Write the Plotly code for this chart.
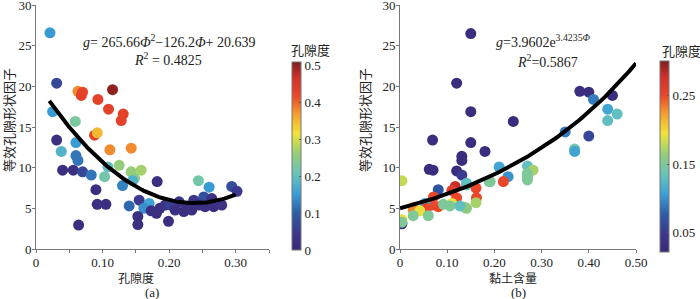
import numpy as np
import plotly.graph_objects as go

# ---- data: panel (a) ----
a_x = [0.021,0.031,0.063,0.070,0.068,0.093,0.115,0.109,0.131,0.128,0.025,0.059,0.088,0.092,0.031,0.060,
       0.038,0.060,0.063,0.111,0.143,0.040,0.056,0.070,0.083,0.103,0.108,0.125,0.143,0.158,0.148,0.145,
       0.130,0.090,0.092,0.105,0.140,0.155,0.170,0.162,0.153,0.153,0.064,0.173,0.182,0.244,0.260,0.294,
       0.302,0.186,0.194,0.202,0.209,0.222,0.234,0.237,0.252,0.254,0.264,0.267,0.279,0.199,0.245,0.181,
       0.227,0.215]
a_y = [26.6,20.4,19.4,19.3,18.9,18.4,19.6,17.2,16.6,15.8,16.9,15.7,14.0,14.3,13.4,13.1,
       12.0,11.5,10.9,12.2,12.4,9.7,9.7,9.5,9.1,8.9,10.1,10.3,9.5,9.7,8.7,8.4,
       7.8,7.3,5.5,5.5,5.3,6.0,5.6,5.0,4.0,3.0,2.95,4.7,8.3,8.4,7.6,7.7,
       7.1,5.0,5.4,5.4,4.8,4.6,4.8,6.0,6.4,5.2,6.2,5.2,5.4,3.4,5.4,4.4,
       5.2,5.8]
a_c = [0.15,0.07,0.38,0.42,0.43,0.43,0.50,0.43,0.43,0.43,0.15,0.23,0.43,0.35,0.02,0.15,
       0.18,0.12,0.12,0.38,0.38,0.02,0.02,0.07,0.12,0.22,0.20,0.26,0.26,0.27,0.25,0.18,
       0.13,0.02,0.02,0.02,0.11,0.05,0.16,0.14,0.02,0.02,0.02,0.02,0.02,0.22,0.15,0.08,
       0.05,0.02,0.03,0.06,0.02,0.02,0.02,0.04,0.08,0.02,0.03,0.02,0.03,0.02,0.02,0.02,
       0.02,0.03]
a_fit = [265.66, -126.2, 20.639]      # quadratic coefficients
a_fit_range = [0.02, 0.30]

# ---- data: panel (b) ----
b_x = [0.150,0.120,0.150,0.240,0.069,0.150,0.180,0.131,0.131,0.062,0.070,0.120,0.131,0.210,0.229,0.219,
       0.189,0.004,0.081,0.117,0.110,0.141,0.161,0.162,0.120,0.071,0.067,0.081,0.053,0.056,0.028,0.028,
       0.042,0.110,0.106,0.138,0.141,0.161,0.092,0.028,0.060,0.004,0.004,0.004,0.127,0.381,0.400,0.410,
       0.450,0.440,0.460,0.440,0.350,0.400,0.370,0.370,0.270,0.282,0.270,0.270,0.270,0.191,0.141]
b_y = [26.5,20.4,16.9,15.7,13.4,13.1,12.0,11.4,10.9,9.8,9.7,9.6,9.1,10.1,8.9,8.3,
       8.3,8.4,7.3,7.7,7.2,7.9,7.5,6.3,6.3,6.4,5.4,5.2,5.6,5.0,5.1,4.8,
       4.7,5.6,5.3,5.1,5.0,5.7,5.5,4.1,4.1,3.6,3.1,3.3,5.3,19.4,19.3,18.4,
       18.9,17.2,16.6,15.8,14.4,13.9,12.3,12.0,10.2,9.7,9.3,8.9,8.5,8.3,8.1]
b_c = [0.03,0.03,0.03,0.03,0.03,0.03,0.03,0.03,0.03,0.03,0.03,0.03,0.05,0.11,0.10,0.25,
       0.15,0.18,0.07,0.28,0.26,0.13,0.25,0.25,0.25,0.25,0.25,0.25,0.11,0.25,0.22,0.23,
       0.19,0.19,0.15,0.16,0.16,0.17,0.15,0.15,0.15,0.19,0.03,0.15,0.13,0.03,0.03,0.09,
       0.03,0.11,0.13,0.13,0.09,0.06,0.14,0.11,0.13,0.17,0.15,0.15,0.15,0.15,0.13]
b_fit = [5.0, 3.04]                   # drawn exponential curve a*exp(b*x)
b_fit_range = [0.0, 0.50]

colorscale = [
    [0.00, '#3b2878'], [0.10, '#3c3a8e'], [0.20, '#2d5ea8'], [0.30, '#3a9fd6'],
    [0.40, '#66c3bd'], [0.50, '#8fcb80'], [0.56, '#bcd85a'], [0.62, '#f3e23a'],
    [0.72, '#f5a22e'], [0.82, '#e9462a'], [0.92, '#d1302a'], [1.00, '#7a1e1e']]

SERIF = "Liberation Serif, Times New Roman, serif"
CJK = "Noto Sans CJK SC"
W, H = 700, 299

def px_x(p): return p / W
def px_y(p): return 1 - p / H

fig = go.Figure()

fig.add_trace(go.Scatter(x=a_x, y=a_y, mode='markers', xaxis='x', yaxis='y',
                         marker=dict(size=11, color=a_c, coloraxis='coloraxis'), showlegend=False))
fa = np.linspace(a_fit_range[0], a_fit_range[1], 100)
fig.add_trace(go.Scatter(x=fa, y=np.polyval(a_fit, fa), mode='lines', xaxis='x', yaxis='y',
                         line=dict(color='black', width=4), showlegend=False))

fig.add_trace(go.Scatter(x=b_x, y=b_y, mode='markers', xaxis='x2', yaxis='y2',
                         marker=dict(size=11, color=b_c, coloraxis='coloraxis2'), showlegend=False))
fb = np.linspace(b_fit_range[0], b_fit_range[1], 100)
fig.add_trace(go.Scatter(x=fb, y=b_fit[0] * np.exp(b_fit[1] * fb), mode='lines', xaxis='x2', yaxis='y2',
                         line=dict(color='black', width=4), showlegend=False))

axis_common = dict(showline=True, linecolor='#777', linewidth=1, ticks='outside', ticklen=3,
                   tickcolor='#777', showgrid=False, zeroline=False, ticklabelstandoff=-2,
                   automargin=False, ticklabeloverflow='allow',
                   tickfont=dict(family=SERIF, size=13, color='#222'))
ydom = [px_y(249), px_y(5)]

lx_t = [0, 0.05, 0.10, 0.15, 0.20, 0.25, 0.30, 0.35]
lx_l = ['0', ' ', '0.10', ' ', '0.20', ' ', '0.30', ' ']
rx_t = [0, 0.1, 0.2, 0.3, 0.4, 0.5]
rx_l = ['0', '0.10', '0.20', '0.30', '0.40', '0.50']
y_t = [0, 5, 10, 15, 20, 25, 30]

fig.update_layout(
    width=W, height=H, margin=dict(l=0, r=0, t=0, b=0, autoexpand=False),
    paper_bgcolor='white', plot_bgcolor='white',
    xaxis=dict(domain=[px_x(36), px_x(269)], range=[0, 0.35], tickvals=lx_t, ticktext=lx_l,
               anchor='y', **axis_common),
    yaxis=dict(domain=ydom, range=[0, 30.02], tickvals=y_t, anchor='x', **axis_common),
    xaxis2=dict(domain=[px_x(400), px_x(636)], range=[0, 0.5], tickvals=rx_t, ticktext=rx_l,
                anchor='y2', **axis_common),
    yaxis2=dict(domain=ydom, range=[0, 30.02], tickvals=y_t, anchor='x2', **axis_common),
    coloraxis=dict(colorscale=colorscale, cmin=0, cmax=0.51,
                   colorbar=dict(x=px_x(292), xanchor='left', y=px_y(156), yanchor='middle',
                                 len=188, lenmode='pixels', thickness=9, thicknessmode='pixels',
                                 xpad=0, ypad=0,
                                 outlinewidth=1, outlinecolor='#777',
                                 tickvals=[0, 0.1, 0.2, 0.3, 0.4, 0.5],
                                 ticktext=['0', '0.1', '0.2', '0.3', '0.4', '0.5'],
                                 ticks='inside', ticklen=2, tickcolor='#555',
                                 tickfont=dict(family=SERIF, size=13, color='#222'))),
    coloraxis2=dict(colorscale=colorscale, cmin=0.022, cmax=0.30,
                    colorbar=dict(x=px_x(660), xanchor='left', y=px_y(156.5), yanchor='middle',
                                  len=191, lenmode='pixels', thickness=9, thicknessmode='pixels',
                                  xpad=0, ypad=0,
                                  outlinewidth=1, outlinecolor='#777',
                                  tickvals=[0.05, 0.15, 0.25], ticktext=['0.05', '0.15', '0.25'],
                                  ticks='inside', ticklen=2, tickcolor='#555',
                                  tickfont=dict(family=SERIF, size=13, color='#222'))),
)

def ann(text, x, y, font, size, angle=0):
    fig.add_annotation(text=text, x=px_x(x), y=px_y(y), xref='paper', yref='paper',
                       showarrow=False, xanchor='center', yanchor='middle', textangle=angle,
                       font=dict(family=font, size=size, color='#222'))

ann('<i>g</i>= 265.66<i>Φ</i><sup>2</sup>−126.2<i>Φ</i>+ 20.639', 169, 41, SERIF, 14)
ann('<i>R</i><sup>2</sup> = 0.4825', 168, 59, SERIF, 14)
ann('<i>g</i>=3.9602e<sup>3.4235<i>Φ</i></sup>', 543, 41, SERIF, 14)
ann('<i>R</i><sup>2</sup>=0.5867', 547, 61, SERIF, 14)

ann('孔隙度', 136, 277, CJK, 12)
ann('(a)', 152, 292, SERIF, 13)
ann('黏土含量', 513, 277, CJK, 12)
ann('(b)', 518, 292, SERIF, 13)
ann('等效孔隙形状因子', 9, 120, CJK, 13, -90)
ann('等效孔隙形状因子', 365, 120, CJK, 13, -90)
ann('孔隙度', 310, 49, CJK, 13)
ann('孔隙度', 681, 50, CJK, 13)

fig.write_html("out.html", config={'displayModeBar': False},
               post_script="document.body.style.margin='0';document.body.style.overflow='hidden';")
